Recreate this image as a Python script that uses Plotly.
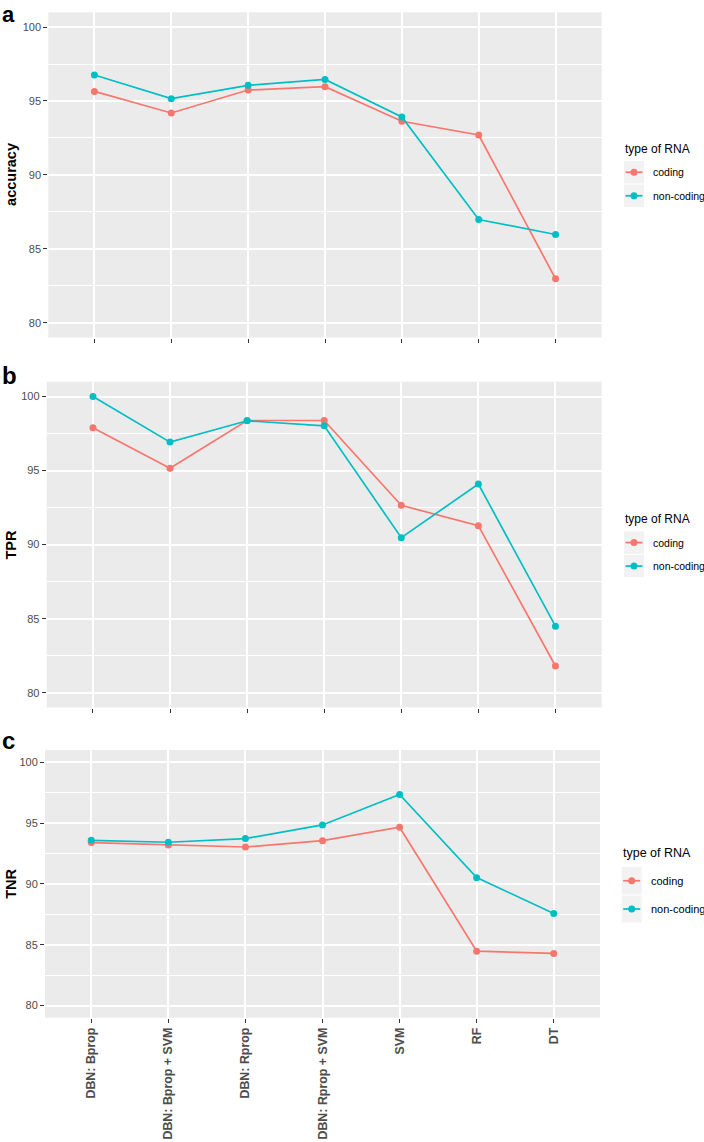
import plotly.graph_objects as go

methods = ["DBN: Bprop", "DBN: Bprop + SVM", "DBN: Rprop", "DBN: Rprop + SVM", "SVM", "RF", "DT"]
series_names = ["coding", "non-coding"]
acc_coding = [95.65, 94.19, 95.74, 95.97, 93.63, 92.70, 82.97]
acc_noncoding = [96.76, 95.16, 96.06, 96.46, 93.92, 86.98, 85.97]
tpr_coding = [97.89, 95.15, 98.38, 98.38, 92.65, 91.28, 81.80]
tpr_noncoding = [100.0, 96.92, 98.36, 98.02, 90.47, 94.09, 84.49]
tnr_coding = [93.39, 93.20, 93.03, 93.55, 94.65, 84.47, 84.28]
tnr_noncoding = [93.58, 93.42, 93.72, 94.84, 97.34, 90.51, 87.57]
y_ticks = [80, 85, 90, 95, 100]
y_minor = [82.5, 87.5, 92.5, 97.5]
panel_titles = ["accuracy", "TPR", "TNR"]
panel_letters = ["a", "b", "c"]
legend_title = "type of RNA"

W, H = 704, 1142
COLORS = ["#F8766D", "#00BFC4"]
FONT = "Liberation Sans, Arial, sans-serif"


def px_x(x):
    return x / W


def px_y(y):
    return 1 - y / H


# pixel geometry of the three panels: (left, right, top, bottom)
panels = [(48.3, 601.7, 12.3, 337.5), (46.7, 601.7, 381.7, 707.5), (45.0, 600.0, 750.0, 1017.7)]
letter_mid = [14.5, 375.5, 740.5]
letter_size = [22, 24, 24]
# legend geometry: title-left, title-y, key-left, key-width, key rows (top, bottom), text-left, font sizes
legends = [
    (622.7, 149.0, 624.0, 20.0, [(161.0, 183.5), (184.5, 207.0)], 651.0, 12, 10.5),
    (622.7, 519.3, 624.0, 20.0, [(531.3, 553.8), (554.8, 577.3)], 651.0, 12, 10.5),
    (620.7, 853.0, 621.7, 20.0, [(867.0, 894.5), (895.5, 922.5)], 649.0, 12.5, 11),
]

data = [(acc_coding, acc_noncoding), (tpr_coding, tpr_noncoding), (tnr_coding, tnr_noncoding)]

fig = go.Figure()
layout = dict(
    width=W, height=H,
    margin=dict(l=0, r=0, t=0, b=0, autoexpand=False),
    paper_bgcolor="white",
    plot_bgcolor="#EBEBEB",
    showlegend=False,
    annotations=[],
    shapes=[],
)

for i, (vals, (left, right, top, bot)) in enumerate(zip(data, panels)):
    n = i + 1
    sfx = "" if n == 1 else str(n)
    for name, v, c in zip(series_names, vals, COLORS):
        fig.add_trace(go.Scatter(
            x=methods, y=v, name=name, mode="lines+markers",
            line=dict(color=c, width=1.7),
            marker=dict(color=c, size=7),
            xaxis=f"x{sfx}", yaxis=f"y{sfx}",
        ))
    layout[f"xaxis{sfx}"] = dict(
        domain=[px_x(left), px_x(right)], anchor=f"y{sfx}",
        type="category", categoryorder="array", categoryarray=methods,
        range=[-0.6, 6.6], automargin=False,
        showgrid=True, gridcolor="white", gridwidth=1.6,
        zeroline=False, showline=False,
        ticks="outside", ticklen=4, tickwidth=1.1, tickcolor="#333333",
        showticklabels=(n == 3), tickangle=-90,
        tickfont=dict(family=FONT, size=12.4, color="#4D4D4D", weight="bold"),
    )
    layout[f"yaxis{sfx}"] = dict(
        domain=[px_y(bot), px_y(top)], anchor=f"x{sfx}",
        range=[79, 101], tickvals=y_ticks, automargin=False,
        showgrid=True, gridcolor="white", gridwidth=1.6,
        zeroline=False, showline=False,
        ticks="outside", ticklen=4, tickwidth=1.1, tickcolor="#333333",
        tickfont=dict(family=FONT, size=11, color="#4D4D4D"),
        minor=dict(tickvals=y_minor, showgrid=True, gridcolor="white", gridwidth=0.8, ticks=""),
    )
    # y-axis title
    layout["annotations"].append(dict(
        text=f"<b>{panel_titles[i]}</b>", textangle=-90, showarrow=False,
        xref="paper", yref="paper", x=px_x(11), y=px_y((top + bot) / 2),
        xanchor="center", yanchor="middle",
        font=dict(family=FONT, size=14.5, color="#000000"),
    ))
    # panel letter
    layout["annotations"].append(dict(
        text=f"<b>{panel_letters[i]}</b>", showarrow=False,
        xref="paper", yref="paper", x=px_x(0), y=px_y(letter_mid[i]),
        xanchor="left", yanchor="middle",
        font=dict(family=FONT, size=letter_size[i], color="#000000"),
    ))
    # legend (title, grey key boxes, key glyphs, labels)
    tl, ty, kl, kw, rows, txl, tfs, lfs = legends[i]
    layout["annotations"].append(dict(
        text=legend_title, showarrow=False, xref="paper", yref="paper",
        x=px_x(tl), y=px_y(ty), xanchor="left", yanchor="middle",
        font=dict(family=FONT, size=tfs, color="#000000"),
    ))
    for (r0, r1), name, c in zip(rows, series_names, COLORS):
        cy = (r0 + r1) / 2
        layout["shapes"].append(dict(
            type="rect", xref="paper", yref="paper", layer="below",
            x0=px_x(kl), x1=px_x(kl + kw), y0=px_y(r1), y1=px_y(r0),
            fillcolor="#F2F2F2", line=dict(width=0),
        ))
        layout["shapes"].append(dict(
            type="line", xref="paper", yref="paper",
            x0=px_x(kl + 1.5), x1=px_x(kl + kw - 1.5), y0=px_y(cy), y1=px_y(cy),
            line=dict(color=c, width=1.7),
        ))
        layout["shapes"].append(dict(
            type="circle", xref="paper", yref="paper",
            x0=px_x(kl + kw / 2 - 3.5), x1=px_x(kl + kw / 2 + 3.5),
            y0=px_y(cy + 3.5), y1=px_y(cy - 3.5),
            fillcolor=c, line=dict(width=0),
        ))
        layout["annotations"].append(dict(
            text=name, showarrow=False, xref="paper", yref="paper",
            x=px_x(txl), y=px_y(cy), xanchor="left", yanchor="middle",
            font=dict(family=FONT, size=lfs, color="#000000"),
        ))

fig.update_layout(**layout)
fig.write_html(
    "out.html",
    config={"displayModeBar": False},
    post_script="document.body.style.margin='0';document.body.style.padding='0';",
)
